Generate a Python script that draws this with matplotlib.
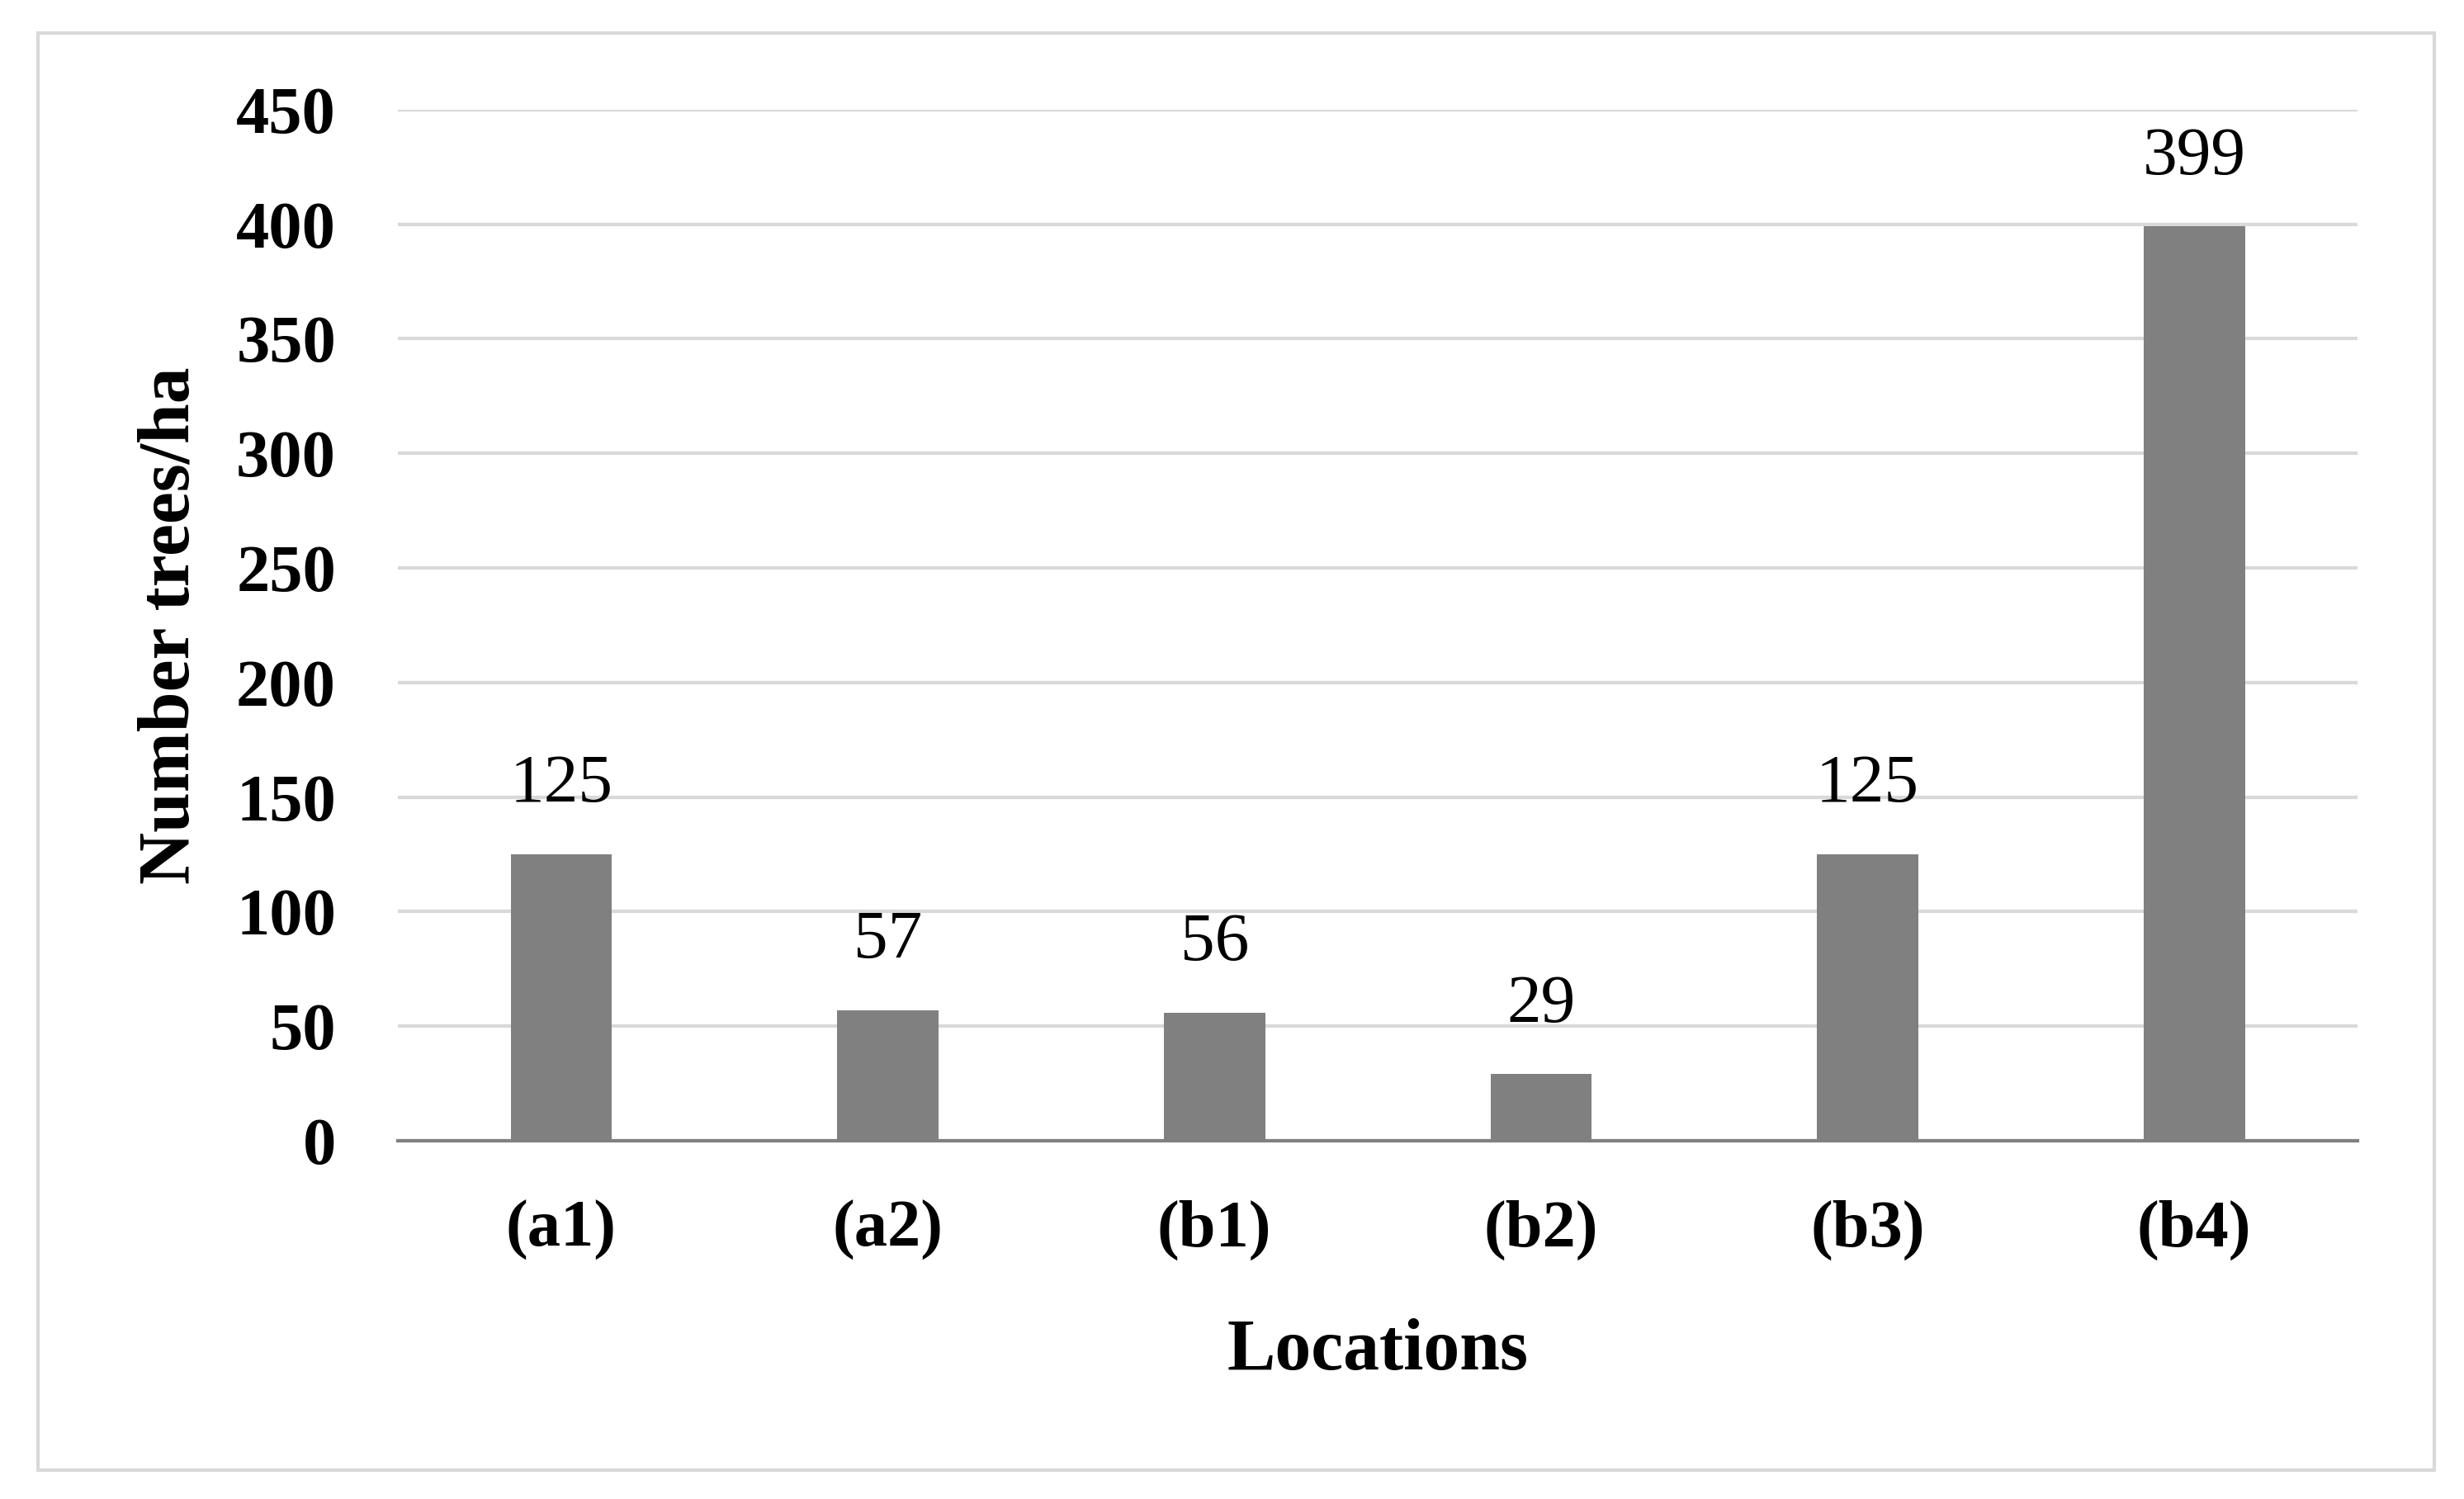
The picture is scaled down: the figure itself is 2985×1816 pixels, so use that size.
import matplotlib.pyplot as plt
from matplotlib.patches import Rectangle

# Data
locations = ["(a1)", "(a2)", "(b1)", "(b2)", "(b3)", "(b4)"]
trees_per_ha = [125, 57, 56, 29, 125, 399]
y_ticks = [0, 50, 100, 150, 200, 250, 300, 350, 400, 450]

plt.rcParams["font.family"] = ["Liberation Serif", "DejaVu Serif"]

fig = plt.figure(figsize=(29.85, 18.16), dpi=100)
ax = fig.add_axes([0.1615, 0.2390, 0.7953, 0.6878])

# light grey frame around the whole chart
fig.patches.append(Rectangle((0.0155, 0.019), 0.9725, 0.959, transform=fig.transFigure,
                             fill=False, edgecolor="#d9d9d9", linewidth=3))

x = range(len(locations))
bars = ax.bar(x, trees_per_ha, width=0.31, color="#808080", zorder=3)

for b, v in zip(bars, trees_per_ha):
    ax.annotate(str(v), (b.get_x() + b.get_width() / 2, v), xytext=(0, 60),
                textcoords="offset points", ha="center", va="center", fontsize=60)

ax.set_xlim(-0.5, len(locations) - 0.5)
ax.set_ylim(0, 450)
ax.set_yticks(y_ticks)
ax.set_xticks(list(x))
ax.set_xticklabels(locations)
ax.yaxis.grid(True, color="#d9d9d9", linewidth=3, zorder=0)
ax.tick_params(axis="both", length=0, labelsize=58)
ax.tick_params(axis="x", pad=52)
ax.tick_params(axis="y", pad=54)
for lab in ax.get_xticklabels() + ax.get_yticklabels():
    lab.set_fontweight("bold")

for s in ["top", "right", "left"]:
    ax.spines[s].set_visible(False)
ax.spines["bottom"].set_color("#808080")
ax.spines["bottom"].set_linewidth(3)
ax.spines["bottom"].set_zorder(4)

ax.set_xlabel("Locations", fontsize=63, fontweight="bold", labelpad=50)
ax.set_ylabel("Number trees/ha", fontsize=63, fontweight="bold", labelpad=28)

fig.savefig("out.png", dpi=100)
